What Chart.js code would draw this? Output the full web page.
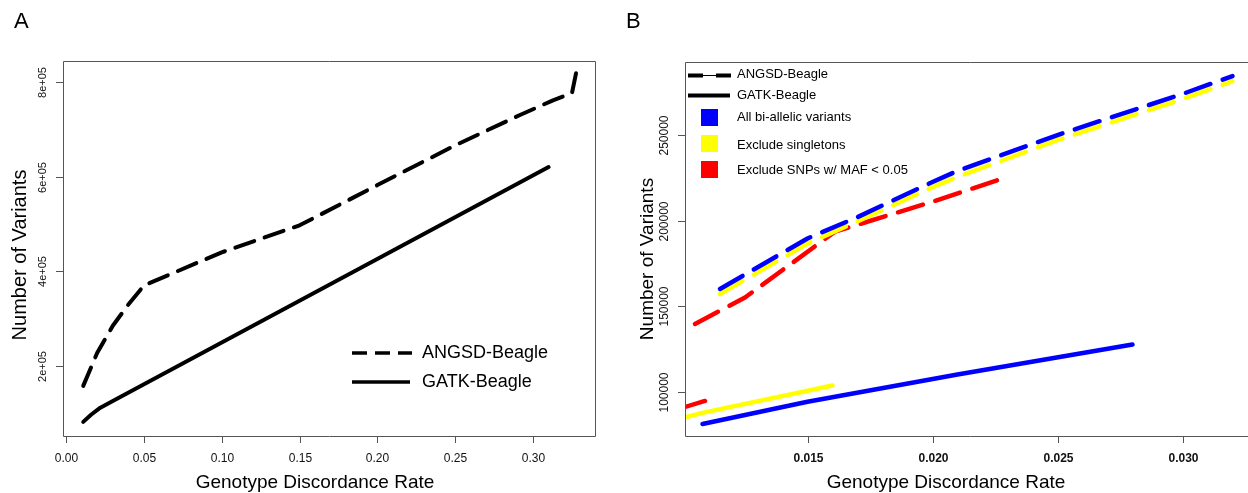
<!DOCTYPE html>
<html>
<head>
<meta charset="utf-8">
<script src="https://cdn.jsdelivr.net/npm/chart.js@4/dist/chart.umd.min.js"></script>
<style>
  html, body { margin: 0; padding: 0; background: #fff; }
  #wrap { position: relative; width: 1248px; height: 493px; overflow: hidden; }
  canvas { position: absolute; top: 0; }
  #left { left: 0; }
  #right { left: 620px; }
</style>
</head>
<body>
<div id="wrap">
  <canvas id="left" width="620" height="493"></canvas>
  <canvas id="right" width="640" height="493"></canvas>
</div>
<script>
// Panel A: genotype discordance vs number of variants
const angsdX = [0.011, 0.02, 0.03, 0.04, 0.05, 0.10, 0.15, 0.20, 0.25, 0.2916, 0.3128, 0.325, 0.3276]
const angsdY = [158000, 228000, 285000, 330000, 370000, 440000, 497000, 582000, 666000, 730000, 761000, 776000, 818000]
const gatkX = [0.011, 0.016, 0.022, 0.03, 0.31]
const gatkY = [82000, 97000, 112000, 126000, 620000]

const leftXTicks = [0, 0.05, 0.10, 0.15, 0.20, 0.25, 0.30]
const leftXLabels = ["0.00", "0.05", "0.10", "0.15", "0.20", "0.25", "0.30"]
const leftYTicks = [200000, 400000, 600000, 800000]
const leftYLabels = ["2e+05", "4e+05", "6e+05", "8e+05"]

// Panel B: per filter set
const allAngsdX = [0.0115, 0.015, 0.017, 0.020, 0.021, 0.025, 0.030, 0.032]
const allAngsdY = [160000, 189500, 202000, 222500, 229000, 250000, 274000, 284500]
const singAngsdX = [0.0115, 0.015, 0.017, 0.020, 0.021, 0.025, 0.030, 0.032]
const singAngsdY = [157000, 186500, 199500, 219500, 225500, 247000, 271000, 281500]
const mafAngsdX = [0.0105, 0.0125, 0.0161, 0.020, 0.023]
const mafAngsdY = [139500, 155000, 193500, 211000, 225500]
const allGatkX = [0.0108, 0.015, 0.021, 0.028]
const allGatkY = [81000, 94000, 110000, 127500]
const singGatkX = [0.0100, 0.0108, 0.016]
const singGatkY = [84500, 87500, 103500]
const mafGatkX = [0.0100, 0.0109]
const mafGatkY = [90500, 94500]

const rightXTicks = [0.015, 0.020, 0.025, 0.030]
const rightXLabels = ["0.015", "0.020", "0.025", "0.030"]
const rightYTicks = [100000, 150000, 200000, 250000]
const rightYLabels = ["100000", "150000", "200000", "250000"]

const FONT = "'Liberation Sans', Arial, sans-serif"
const BLUE = "#0000ff"
const YELLOW = "#ffff00"
const RED = "#ff0000"

const toPoints = (xs, ys) => xs.map((x, i) => ({x, y: ys[i]}))

const lineSet = (xs, ys, color, dash, width, order) => ({
  data: toPoints(xs, ys),
  borderColor: color,
  borderWidth: width,
  borderDash: dash,
  borderCapStyle: "round",
  borderJoinStyle: "round",
  pointRadius: 0,
  tension: 0,
  fill: false,
  order,
})

// R-style box, ticks, labels and titles drawn from the chart's scales
const rAxes = (cfg) => ({
  id: "rAxes",
  afterDraw(chart) {
    const {ctx, chartArea: area, scales} = chart
    const xs = scales.x
    const ys = scales.y
    ctx.save()
    ctx.strokeStyle = "#555"
    ctx.lineWidth = 1
    ctx.beginPath()
    ctx.moveTo(area.left + 0.5, area.top + 0.5)
    ctx.lineTo(area.right + 0.5, area.top + 0.5)
    ctx.lineTo(area.right + 0.5, area.bottom + 0.5)
    ctx.lineTo(area.left + 0.5, area.bottom + 0.5)
    ctx.closePath()
    ctx.stroke()

    ctx.fillStyle = "#111"
    ctx.font = `${cfg.xBold ? "bold " : ""}12px ${FONT}`
    ctx.textAlign = "center"
    ctx.textBaseline = "middle"
    cfg.xTicks.forEach((v, i) => {
      const px = Math.round(xs.getPixelForValue(v)) + 0.5
      ctx.beginPath()
      ctx.moveTo(px, area.bottom)
      ctx.lineTo(px, area.bottom + 7)
      ctx.stroke()
      ctx.fillText(cfg.xLabels[i], px, area.bottom + 23)
    })

    ctx.font = `${cfg.yFont}px ${FONT}`
    cfg.yTicks.forEach((v, i) => {
      const py = Math.round(ys.getPixelForValue(v)) + 0.5
      ctx.beginPath()
      ctx.moveTo(area.left, py)
      ctx.lineTo(area.left - 7, py)
      ctx.stroke()
      ctx.save()
      ctx.translate(area.left - cfg.yLabelGap, py)
      ctx.rotate(-Math.PI / 2)
      ctx.fillText(cfg.yLabels[i], 0, 0)
      ctx.restore()
    })

    ctx.fillStyle = "#000"
    ctx.font = `19px ${FONT}`
    ctx.fillText("Genotype Discordance Rate", cfg.xTitleX, 483)
    ctx.save()
    ctx.font = `${cfg.yTitleFont}px ${FONT}`
    ctx.translate(cfg.yTitleX, cfg.yTitleY)
    ctx.rotate(-Math.PI / 2)
    ctx.fillText("Number of Variants", 0, 0)
    ctx.restore()

    ctx.font = `22px ${FONT}`
    ctx.textAlign = "left"
    ctx.fillText(cfg.letter, cfg.letterX, 22)

    cfg.legend(ctx)
    ctx.restore()
  },
})

const leftLegend = (ctx) => {
  ctx.strokeStyle = "#000"
  ctx.lineWidth = 3.5
  ctx.lineCap = "butt"
  ctx.setLineDash([15, 8])
  ctx.beginPath()
  ctx.moveTo(352, 353)
  ctx.lineTo(412, 353)
  ctx.stroke()
  ctx.setLineDash([])
  ctx.beginPath()
  ctx.moveTo(352, 382)
  ctx.lineTo(410, 382)
  ctx.stroke()
  ctx.fillStyle = "#000"
  ctx.font = `18px ${FONT}`
  ctx.textAlign = "left"
  ctx.textBaseline = "middle"
  ctx.fillText("ANGSD-Beagle", 422, 353)
  ctx.fillText("GATK-Beagle", 422, 382)
}

// canvas B starts at x=620
const rightLegend = (ctx) => {
  const ox = -620
  ctx.strokeStyle = "#000"
  ctx.lineCap = "butt"
  ctx.lineWidth = 1
  ctx.beginPath()
  ctx.moveTo(688 + ox, 75.5)
  ctx.lineTo(730 + ox, 75.5)
  ctx.stroke()
  ctx.lineWidth = 4
  ctx.setLineDash([15, 13])
  ctx.beginPath()
  ctx.moveTo(688 + ox, 75.5)
  ctx.lineTo(731 + ox, 75.5)
  ctx.stroke()
  ctx.setLineDash([])
  ctx.beginPath()
  ctx.moveTo(688 + ox, 95.5)
  ctx.lineTo(730 + ox, 95.5)
  ctx.stroke()
  const swatches = [[BLUE, 109], [YELLOW, 135], [RED, 161]]
  swatches.forEach(([c, y]) => {
    ctx.fillStyle = c
    ctx.fillRect(701 + ox, y, 17, 17)
  })
  ctx.fillStyle = "#000"
  ctx.font = `13px ${FONT}`
  ctx.textAlign = "left"
  ctx.textBaseline = "middle"
  ctx.fillText("ANGSD-Beagle", 737 + ox, 74)
  ctx.fillText("GATK-Beagle", 737 + ox, 95)
  ctx.fillText("All bi-allelic variants", 737 + ox, 117)
  ctx.fillText("Exclude singletons", 737 + ox, 145)
  ctx.fillText("Exclude SNPs w/ MAF < 0.05", 737 + ox, 170)
}

const baseOptions = (xMin, xMax, yMin, yMax, padding) => ({
  responsive: false,
  animation: false,
  events: [],
  layout: {padding},
  plugins: {legend: {display: false}, tooltip: {enabled: false}},
  scales: {
    x: {type: "linear", min: xMin, max: xMax, display: false},
    y: {type: "linear", min: yMin, max: yMax, display: false},
  },
})

new Chart(document.getElementById("left"), {
  type: "line",
  data: {
    datasets: [
      lineSet(angsdX, angsdY, "#000", [20, 11], 4, 0),
      lineSet(gatkX, gatkY, "#000", [], 4, 1),
    ],
  },
  options: baseOptions(-0.002, 0.3398, 52200, 844000, {left: 63, right: 25, top: 61, bottom: 57}),
  plugins: [rAxes({
    xTicks: leftXTicks, xLabels: leftXLabels, yTicks: leftYTicks, yLabels: leftYLabels,
    xBold: false, yFont: 11, yLabelGap: 20, yTitleFont: 20,
    xTitleX: 315, yTitleX: 20, yTitleY: 255, letter: "A", letterX: 14, legend: leftLegend,
  })],
})

new Chart(document.getElementById("right"), {
  type: "line",
  data: {
    datasets: [
      lineSet(allAngsdX, allAngsdY, BLUE, [26, 13], 4.5, 0),
      lineSet(singAngsdX, singAngsdY, YELLOW, [26, 13], 4.5, 1),
      lineSet(mafAngsdX, mafAngsdY, RED, [26, 13], 4.5, 2),
      lineSet(allGatkX, allGatkY, BLUE, [], 4.5, 0),
      lineSet(singGatkX, singGatkY, YELLOW, [], 4.5, 1),
      lineSet(mafGatkX, mafGatkY, RED, [], 4.5, 2),
    ],
  },
  options: baseOptions(0.0101, 0.0329, 74000, 292700, {left: 65, right: 5, top: 62, bottom: 57}),
  plugins: [rAxes({
    xTicks: rightXTicks, xLabels: rightXLabels, yTicks: rightYTicks, yLabels: rightYLabels,
    xBold: true, yFont: 12, yLabelGap: 20, yTitleFont: 19,
    xTitleX: 326, yTitleX: 28, yTitleY: 259, letter: "B", letterX: 6, legend: rightLegend,
  })],
})
</script>
</body>
</html>
